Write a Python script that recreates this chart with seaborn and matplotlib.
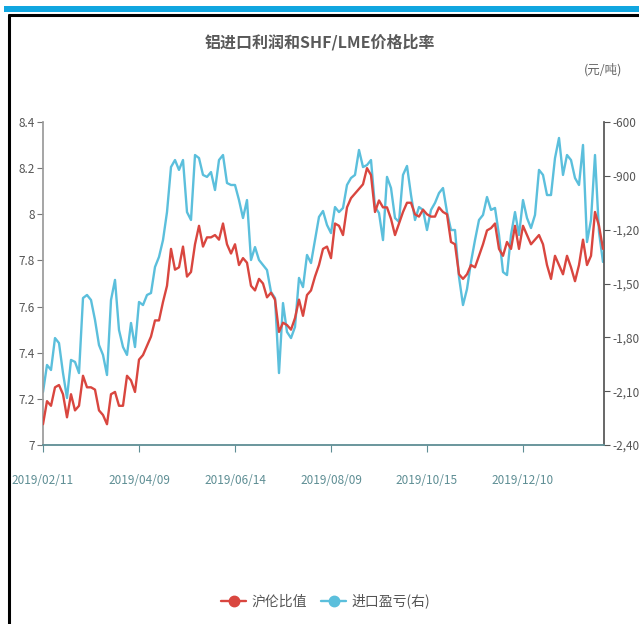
import matplotlib
matplotlib.use("Agg")
import matplotlib.pyplot as plt
from matplotlib.lines import Line2D
from matplotlib.ticker import FuncFormatter
import seaborn as sns
import pandas as pd
import numpy as np

sns.set_theme(style="white")
plt.rcParams['font.family'] = ['Noto Sans CJK SC', 'DejaVu Sans']
plt.rcParams['axes.unicode_minus'] = False

# ---------------- data ----------------
title = "铝进口利润和SHF/LME价格比率"
unit_label = "(元/吨)"
series_names = ["沪伦比值", "进口盈亏(右)"]
tick_labels = ["2019/02/11", "2019/04/09", "2019/06/14", "2019/08/09", "2019/10/15", "2019/12/10"]
tick_index = [0, 24, 48, 72, 96, 120]

ratio = [7.09, 7.19, 7.17, 7.25, 7.26, 7.22, 7.12, 7.22, 7.15, 7.17,
         7.30, 7.25, 7.25, 7.24, 7.15, 7.13, 7.09, 7.22, 7.23, 7.17,
         7.17, 7.30, 7.28, 7.23, 7.37, 7.39, 7.43, 7.47, 7.54, 7.54,
         7.62, 7.69, 7.85, 7.76, 7.77, 7.86, 7.73, 7.75, 7.87, 7.95,
         7.86, 7.90, 7.90, 7.91, 7.89, 7.96, 7.87, 7.83, 7.87, 7.78,
         7.81, 7.79, 7.69, 7.67, 7.72, 7.70, 7.64, 7.66, 7.63, 7.49,
         7.53, 7.52, 7.50, 7.55, 7.63, 7.56, 7.65, 7.67, 7.73, 7.78,
         7.85, 7.86, 7.81, 7.96, 7.95, 7.91, 8.03, 8.07, 8.09, 8.11,
         8.13, 8.20, 8.17, 8.01, 8.06, 8.03, 8.03, 7.98, 7.91, 7.96,
         8.01, 8.05, 8.05, 8.00, 7.99, 8.02, 8.00, 7.99, 7.99, 8.03,
         8.01, 8.00, 7.88, 7.87, 7.74, 7.72, 7.74, 7.78, 7.77, 7.82,
         7.87, 7.93, 7.94, 7.96, 7.85, 7.82, 7.88, 7.85, 7.95, 7.85,
         7.95, 7.91, 7.87, 7.89, 7.91, 7.87, 7.78, 7.72, 7.82, 7.78,
         7.74, 7.82, 7.77, 7.71, 7.78, 7.89, 7.78, 7.82, 8.01, 7.95,
         7.85]

profit = [-2105, -1954, -1982, -1804, -1832, -1999, -2138, -1926, -1937, -1999,
          -1581, -1564, -1592, -1703, -1843, -1898, -2010, -1592, -1480, -1759,
          -1854, -1898, -1720, -1854, -1603, -1620, -1564, -1553, -1408, -1352,
          -1258, -1102, -851, -812, -867, -812, -1102, -1146, -784, -801,
          -895, -906, -879, -979, -812, -784, -940, -951, -951, -1035,
          -1135, -1035, -1369, -1297, -1369, -1397, -1425, -1547, -1581, -1999,
          -1609, -1770, -1804, -1742, -1469, -1520, -1341, -1386, -1258, -1129,
          -1096, -1174, -1219, -1074, -1102, -1079, -951, -912, -895, -756,
          -851, -840, -812, -1074, -1107, -1258, -906, -968, -1135, -1157,
          -895, -845, -1007, -1146, -1074, -1090, -1202, -1090, -1051, -996,
          -968, -1102, -1202, -1202, -1464, -1620, -1531, -1380, -1258, -1146,
          -1118, -1018, -1090, -1079, -1230, -1436, -1453, -1230, -1102, -1230,
          -1035, -1135, -1191, -1118, -867, -895, -1007, -1007, -801, -689,
          -895, -784, -812, -912, -951, -728, -1269, -1146, -784, -1213,
          -1380]

red = "#d9463f"
blue = "#5bbfdc"

df = pd.DataFrame({"idx": np.arange(len(ratio)), "ratio": ratio, "profit": profit})

# ---------------- figure ----------------
fig = plt.figure(figsize=(6.39, 6.24), dpi=100)
ax = fig.add_axes([43/639, 1-445/624, 561/639, 323/624])
ax2 = ax.twinx()

sns.lineplot(data=df, x="idx", y="ratio", ax=ax, color=red, linewidth=1.7, zorder=3)
sns.lineplot(data=df, x="idx", y="profit", ax=ax2, color=blue, linewidth=1.7, zorder=2)
ax.set_zorder(ax2.get_zorder() + 1)
ax.patch.set_visible(False)

ax.set_xlim(0, 140.25)
ax.set_ylim(7.0, 8.4)
ax2.set_ylim(-2400, -600)
ax.set_yticks(np.arange(7.0, 8.41, 0.2))
ax2.set_yticks(np.arange(-2400, -599, 300))
ax.yaxis.set_major_formatter(FuncFormatter(lambda v, p: f"{v:g}"))
ax2.yaxis.set_major_formatter(FuncFormatter(lambda v, p: f"{int(round(v)):,}"))
ax.set_xticks(tick_index)
ax.set_xticklabels(tick_labels)

for a in (ax, ax2):
    a.set_xlabel("")
    a.set_ylabel("")
    a.grid(False)
    a.spines["top"].set_visible(False)

ax.spines["left"].set_color("#9a9a9a")
ax.spines["bottom"].set_color("#5e8e94")
ax.spines["bottom"].set_linewidth(1.3)
ax.spines["right"].set_visible(False)
ax2.spines["left"].set_visible(False)
ax2.spines["bottom"].set_visible(False)
ax2.spines["right"].set_color("#555555")

ax.tick_params(axis="y", left=True, length=4, width=0.8, color="#777777",
               labelsize=8.5, labelcolor="#555555", pad=2)
ax.tick_params(axis="x", bottom=True, length=5, width=0.8, color="#5e8e94",
               labelsize=8.5, labelcolor="#5e8e94", pad=16)
ax2.tick_params(axis="y", right=True, length=4, width=0.8, color="#555555",
                labelsize=8.5, labelcolor="#555555", pad=2)

fig.text(0.5, 1-42/624, title, ha="center", va="center", fontsize=11.5,
         fontweight="bold", color="#595959")
fig.text(603/639, 1-70/624, unit_label, ha="center", va="center", fontsize=9,
         color="#666666")

handles = [Line2D([0], [0], color=red, lw=1.7, marker="o", markersize=7.5),
           Line2D([0], [0], color=blue, lw=1.7, marker="o", markersize=7.5)]
fig.legend(handles, series_names, loc="center", bbox_to_anchor=(0.51, 1-601/624),
           ncol=2, frameon=False, fontsize=10, handlelength=1.8, columnspacing=1.0,
           handletextpad=0.4, labelcolor="#555555")

# decorative frame: blue bar on top, black border
fig.add_artist(plt.Rectangle((4/639, 1-12/624), 1, 6/624, transform=fig.transFigure,
                             color="#11a6e0", lw=0))
fig.add_artist(Line2D([9/639, 9/639], [0, 1-15/624], transform=fig.transFigure,
                      color="black", lw=2.2))
fig.add_artist(Line2D([9/639, 1], [1-15/624, 1-15/624], transform=fig.transFigure,
                      color="black", lw=2.2))

fig.savefig("out.png", dpi=100)
